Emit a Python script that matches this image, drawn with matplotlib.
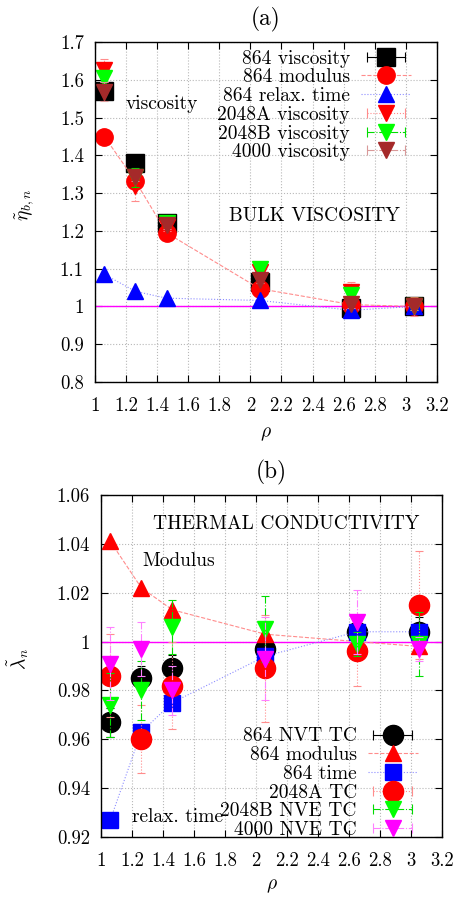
import numpy as np
import matplotlib
matplotlib.use("Agg")
import matplotlib.pyplot as plt
from matplotlib.lines import Line2D
from matplotlib.legend_handler import HandlerLine2D, HandlerTuple

plt.rcParams['font.family'] = ['cmr10', 'DejaVu Serif']
plt.rcParams['mathtext.fontset'] = 'cm'
plt.rcParams['axes.formatter.use_mathtext'] = True
plt.rcParams['font.size'] = 14

# densities of the state points
rho = [1.06, 1.26, 1.46, 2.06, 2.65, 3.05]

# (a) bulk viscosity, normalised
visc_864 = [1.57, 1.38, 1.22, 1.065, 0.995, 1.0]
visc_864_err = [0.01, 0.01, 0.01, 0.01, 0.008, 0.005]
visc_mod_864 = [1.45, 1.332, 1.195, 1.047, 1.005, 1.0]
visc_tau_864 = [1.085, 1.040, 1.022, 1.016, 0.99, 1.0]
visc_2048a = [1.625, 1.318, 1.21, 1.09, 1.038, 1.0]
visc_2048a_err = [0.03, 0.04, 0.01, 0.01, 0.026, 0.025]
visc_2048b = [1.605, 1.342, 1.22, 1.10, 1.03, 1.0]
visc_2048b_err = [0.02, 0.025, 0.01, 0.01, 0.01, 0.01]
visc_4000 = [1.568, 1.343, 1.215, 1.071, 1.007, 1.0]
visc_4000_err = [0.025, 0.01, 0.01, 0.01, 0.01, 0.01]

# (b) thermal conductivity, normalised
tc_864 = [0.967, 0.985, 0.989, 0.997, 1.004, 1.004]
tc_864_err = [0.006, 0.005, 0.0055, 0.006, 0.007, 0.006]
tc_mod_864 = [1.041, 1.022, 1.013, 1.003, 1.000, 0.998]
tc_tau_864 = [0.927, 0.963, 0.975, 0.994, 1.004, 1.004]
tc_2048a = [0.986, 0.960, 0.982, 0.989, 0.996, 1.015]
tc_2048a_err = [0.017, 0.014, 0.018, 0.022, 0.014, 0.022]
tc_2048b = [0.974, 0.980, 1.006, 1.005, 0.999, 0.999]
tc_2048b_err = [0.013, 0.012, 0.011, 0.0135, 0.005, 0.013]
tc_4000 = [0.991, 0.997, 0.980, 0.993, 1.008, 0.997]
tc_4000_err = [0.015, 0.011, 0.010, 0.017, 0.013, 0.005]

LIGHT_RED = (1.0, 0.55, 0.55)
LIGHT_BLUE = (0.55, 0.55, 1.0)
BROWN = '#a52a2a'
LEG_FS = 14


def err_series(ax, x, y, e, color, bar_color, bar_ls, marker, ms):
    """error bars in their own line style, solid marker on top"""
    _, caps, bars = ax.errorbar(x, y, yerr=e, fmt='none', ecolor=bar_color,
                                elinewidth=0.8, capsize=3, capthick=0.8)
    for b in bars:
        b.set_linestyle(bar_ls)
    ax.plot(x, y, ls='none', marker=marker, color=color, ms=ms, mec=color)
    bar = Line2D([], [], color=bar_color, ls=bar_ls, lw=0.8, marker='|', ms=7, mew=0.8)
    mk = Line2D([], [], ls='none', marker=marker, color=color, ms=ms)
    return (bar, mk), bar


def line_series(ax, x, y, color, line_color, line_ls, marker, ms):
    ax.plot(x, y, ls=line_ls, color=line_color, lw=0.8)
    ax.plot(x, y, ls='none', marker=marker, color=color, ms=ms, mec=color)
    ln = Line2D([], [], color=line_color, ls=line_ls, lw=0.8)
    mk = Line2D([], [], ls='none', marker=marker, color=color, ms=ms)
    return (ln, mk)


def style_axes(ax, ylim, yticks):
    ax.set_xlim(1, 3.2)
    ax.set_xticks(np.arange(1, 3.21, 0.2))
    ax.set_xticklabels(['%g' % round(t, 1) for t in np.arange(1, 3.21, 0.2)])
    ax.set_ylim(*ylim)
    ax.set_yticks(yticks)
    ax.set_yticklabels(['%g' % t for t in yticks])
    ax.tick_params(direction='in', top=True, right=True, length=5, width=0.8,
                   labelsize=13.5)
    ax.tick_params(axis='x', pad=11)
    ax.tick_params(axis='y', pad=8)
    ax.grid(True, ls=':', color='#b8b8b8', lw=0.8)
    ax.set_axisbelow(True)
    for s in ax.spines.values():
        s.set_linewidth(1.0)


def add_legend(ax, handles, labels, bars, anchor):
    hmap = {bb: HandlerLine2D(numpoints=2) for bb in bars}
    hmap[tuple] = HandlerTuple(ndivide=1, pad=0)
    ax.legend(handles, labels, handler_map=hmap, loc='upper right',
              bbox_to_anchor=anchor, frameon=False, markerfirst=False,
              numpoints=1, handlelength=2.6, handletextpad=0.55,
              labelspacing=0.04, borderpad=0, borderaxespad=0, fontsize=LEG_FS)


fig = plt.figure(figsize=(4.54, 8.97), dpi=100)
ax1 = fig.add_axes([0.2093, 0.5741, 0.753, 0.379])
ax2 = fig.add_axes([0.2225, 0.0669, 0.751, 0.3813])

# ---- (a) bulk viscosity ----
bars_a = []
h1, b = err_series(ax1, rho, visc_864, visc_864_err, 'black', 'black', '-', 's', 12.5)
bars_a.append(b)
h2 = line_series(ax1, rho, visc_mod_864, 'red', LIGHT_RED, '--', 'o', 12.5)
h3 = line_series(ax1, rho, visc_tau_864, 'blue', LIGHT_BLUE, ':', '^', 11.5)
h4, b = err_series(ax1, rho, visc_2048a, visc_2048a_err, 'red', LIGHT_RED, ':', 'v', 11.5)
bars_a.append(b)
h5, b = err_series(ax1, rho, visc_2048b, visc_2048b_err, '#00ff00', '#00dd00', '-.', 'v', 11.5)
bars_a.append(b)
h6, b = err_series(ax1, rho, visc_4000, visc_4000_err, BROWN, (0.85, 0.6, 0.6), '-.', 'v', 11.5)
bars_a.append(b)
ax1.axhline(1.0, color='magenta', lw=1.0, zorder=1.5)

style_axes(ax1, (0.8, 1.7), [0.8, 0.9, 1.0, 1.1, 1.2, 1.3, 1.4, 1.5, 1.6, 1.7])
ax1.set_title('(a)', pad=12)
ax1.set_xlabel(r'$\rho$', labelpad=7)
ax1.set_ylabel(r'$\tilde{\eta}_{b,n}$')
ax1.yaxis.set_label_coords(-0.17, 0.52)
ax1.text(1.2, 1.535, 'viscosity', va='center')
ax1.text(1.86, 1.24, 'BULK VISCOSITY', va='center')

add_legend(ax1, [h1, h2, h3, h4, h5, h6],
           ['864 viscosity', '864 modulus', '864 relax. time',
            '2048A viscosity', '2048B viscosity', '4000 viscosity'],
           bars_a, (0.925, 0.978))

# ---- (b) thermal conductivity ----
bars_b = []
g1, b = err_series(ax2, rho, tc_864, tc_864_err, 'black', 'black', '-', 'o', 14.5)
bars_b.append(b)
g2 = line_series(ax2, rho, tc_mod_864, 'red', LIGHT_RED, '--', '^', 12)
g3 = line_series(ax2, rho, tc_tau_864, 'blue', LIGHT_BLUE, ':', 's', 12)
g4, b = err_series(ax2, rho, tc_2048a, tc_2048a_err, 'red', LIGHT_RED, ':', 'o', 14.5)
bars_b.append(b)
g5, b = err_series(ax2, rho, tc_2048b, tc_2048b_err, '#00ff00', '#00dd00', '-.', 'v', 12)
bars_b.append(b)
g6, b = err_series(ax2, rho, tc_4000, tc_4000_err, 'magenta', (1.0, 0.5, 1.0), '-.', 'v', 12)
bars_b.append(b)
ax2.axhline(1.0, color='magenta', lw=1.0, zorder=1.5)

style_axes(ax2, (0.92, 1.06), [0.92, 0.94, 0.96, 0.98, 1.0, 1.02, 1.04, 1.06])
ax2.set_title('(b)', pad=12)
ax2.set_xlabel(r'$\rho$', labelpad=5)
ax2.set_ylabel(r'$\tilde{\lambda}_n$')
ax2.yaxis.set_label_coords(-0.205, 0.52)
ax2.text(1.335, 1.048, 'THERMAL CONDUCTIVITY', va='center')
ax2.text(1.265, 1.033, 'Modulus', va='center')
ax2.text(1.2, 0.928, 'relax. time', va='center')

add_legend(ax2, [g1, g2, g3, g4, g5, g6],
           ['864 NVT TC', '864 modulus', '864 time',
            '2048A TC', '2048B NVE TC', '4000 NVE TC'],
           bars_b, (0.93, 0.32))

fig.savefig('out.png', dpi=100)
